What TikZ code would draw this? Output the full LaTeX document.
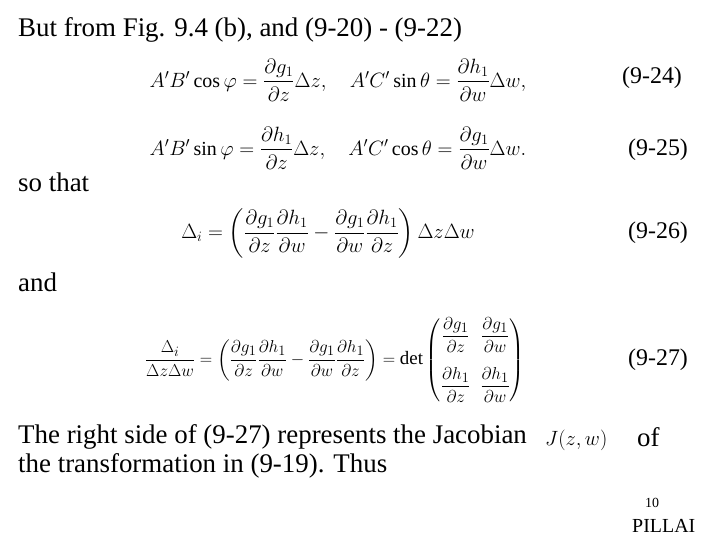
\documentclass[tikz,border=0pt]{standalone}
\usepackage{amsmath}
\usepackage{fontspec}
\setmainfont{Liberation Serif}
\begin{document}
\begin{tikzpicture}[x=1bp,y=-1bp,
  txt/.style={anchor=west,inner sep=0pt,font=\fontsize{27}{30}\selectfont},
  eq/.style={inner sep=0pt,font=\fontsize{20}{24}\selectfont},
  lab/.style={anchor=west,inner sep=0pt,font=\fontsize{24}{28}\selectfont}]
\useasboundingbox[fill=white] (0,0) rectangle (720,540);
\node[txt] (t1) at (18,30) {But from Fig. 9.4 (b), and (9-20) - (9-22)};
\node[eq] (e24) at (338,80) {$A'B'\cos\varphi=\dfrac{\partial g_1}{\partial z}\Delta z,\quad A'C'\sin\theta=\dfrac{\partial h_1}{\partial w}\Delta w,$};
\node[lab] (l24) at (622,78) {(9-24)};
\node[eq] (e25) at (338,148) {$A'B'\sin\varphi=\dfrac{\partial h_1}{\partial z}\Delta z,\quad A'C'\cos\theta=\dfrac{\partial g_1}{\partial w}\Delta w.$};
\node[lab] (l25) at (628,150) {(9-25)};
\node[txt] (t2) at (18,182) {so that};
\node[eq] (e26) at (328,233) {$\Delta_i=\left(\dfrac{\partial g_1}{\partial z}\dfrac{\partial h_1}{\partial w}-\dfrac{\partial g_1}{\partial w}\dfrac{\partial h_1}{\partial z}\right)\Delta z\Delta w$};
\node[lab] (l26) at (628,233) {(9-26)};
\node[txt] (t3) at (18,282) {and};
\node[eq,font=\fontsize{19}{22}\selectfont] (e27) at (335,360) {$\dfrac{\Delta_i}{\Delta z\Delta w}=\left(\dfrac{\partial g_1}{\partial z}\dfrac{\partial h_1}{\partial w}-\dfrac{\partial g_1}{\partial w}\dfrac{\partial h_1}{\partial z}\right)=\det\begin{pmatrix}\dfrac{\partial g_1}{\partial z} & \dfrac{\partial g_1}{\partial w}\\[20pt] \dfrac{\partial h_1}{\partial z} & \dfrac{\partial h_1}{\partial w}\end{pmatrix}$};
\node[lab] (l27) at (628,360) {(9-27)};
\node[txt] (t4) at (18,437) {The right side of (9-27) represents the Jacobian};
\node[eq,anchor=west,font=\fontsize{20}{24}\selectfont] (j) at (545,440) {$J(z,w)$};
\node[txt] (t5) at (637,437) {of};
\node[txt] (t6) at (18,466) {the transformation in (9-19). Thus};
\node[anchor=west,inner sep=0pt,font=\fontsize{14}{16}\selectfont] (n) at (645,503) {10};
\node[anchor=west,inner sep=0pt,font=\fontsize{20}{22}\selectfont] (p) at (632,526) {PILLAI};
\end{tikzpicture}
\end{document}
